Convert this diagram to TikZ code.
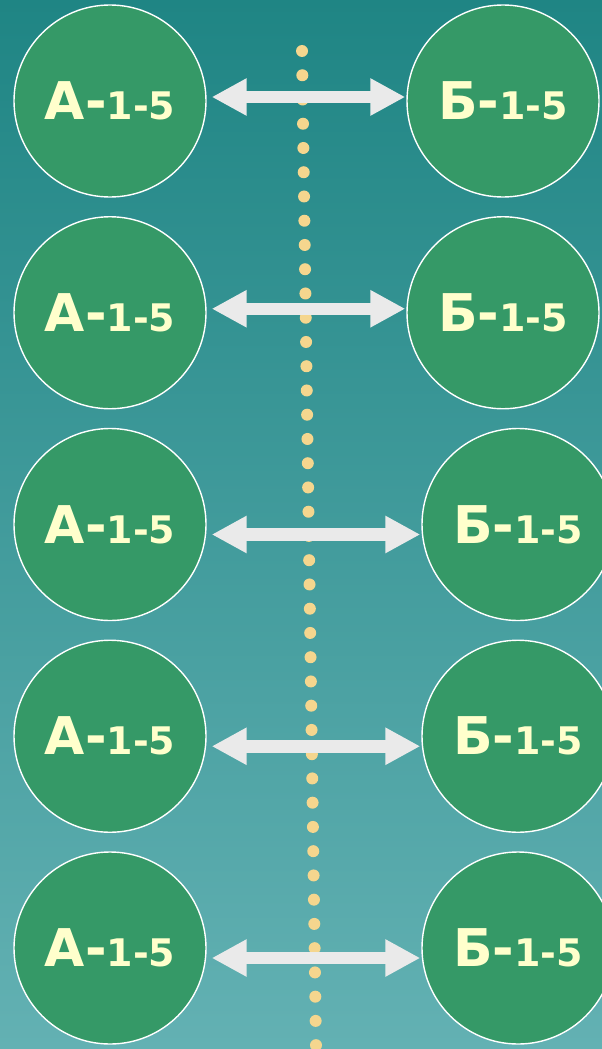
\documentclass[tikz,border=0pt]{standalone}
\usepackage{fontspec}
\setmainfont{DejaVu Sans}
\usepackage{tikz}
\usetikzlibrary{arrows.meta}

\definecolor{bgtop}{RGB}{31,133,132}
\definecolor{bgbot}{RGB}{99,177,179}
\definecolor{ringfill}{RGB}{53,153,103}
\definecolor{ringtext}{RGB}{255,255,204}
\definecolor{linkgray}{RGB}{234,234,234}
\definecolor{dotcol}{RGB}{245,214,142}

\newcommand{\lbl}[1]{{\fontsize{52}{52}\selectfont #1-}{\fontsize{38}{38}\selectfont 1-5}}

\begin{document}
\begin{tikzpicture}[x=1pt, y=-1pt, node distance={211.75pt},
  ring/.style = {draw=white, line width=1.4pt, circle, fill=ringfill, minimum size=192pt, inner sep=0pt, text=ringtext, font=\bfseries},
  link/.style = {draw=linkgray, line width=12.5pt, {Triangle[width=35pt,length=35pt]}-{Triangle[width=35pt,length=35pt]}, shorten <=5pt, shorten >=1pt},
  dots/.style = {draw=dotcol, line width=12pt, line cap=round, dash pattern=on 0pt off 24.25pt}]
\shade[top color=bgtop, bottom color=bgbot] (0,0) rectangle (602,1049);
\useasboundingbox (0,0) rectangle (602,1049);
\coordinate (top) at (302,51);
\coordinate (bottom) at (316,1045.25);
\draw[dots] (top) -- (bottom);
\node[ring] (a1) at (110,101) {\lbl{А}};
\node[ring] (a2) [below of=a1] {\lbl{А}};
\node[ring] (a3) [below of=a2] {\lbl{А}};
\node[ring] (a4) [below of=a3] {\lbl{А}};
\node[ring] (a5) [below of=a4] {\lbl{А}};
\node[ring] (b1) at (503,101) {\lbl{Б}};
\node[ring] (b2) [below of=b1] {\lbl{Б}};
\node[ring] (b3) at (518,524.5) {\lbl{Б}};
\node[ring] (b4) [below of=b3] {\lbl{Б}};
\node[ring] (b5) [below of=b4] {\lbl{Б}};
\draw[link] ([yshift=4pt]a1.east) -- ([yshift=4pt]b1.west);
\draw[link] ([yshift=4pt]a2.east) -- ([yshift=4pt]b2.west);
\draw[link] ([yshift=-10pt]a3.east) -- ([yshift=-10pt]b3.west);
\draw[link] ([yshift=-10pt]a4.east) -- ([yshift=-10pt]b4.west);
\draw[link] ([yshift=-10pt]a5.east) -- ([yshift=-10pt]b5.west);
\end{tikzpicture}
\end{document}
